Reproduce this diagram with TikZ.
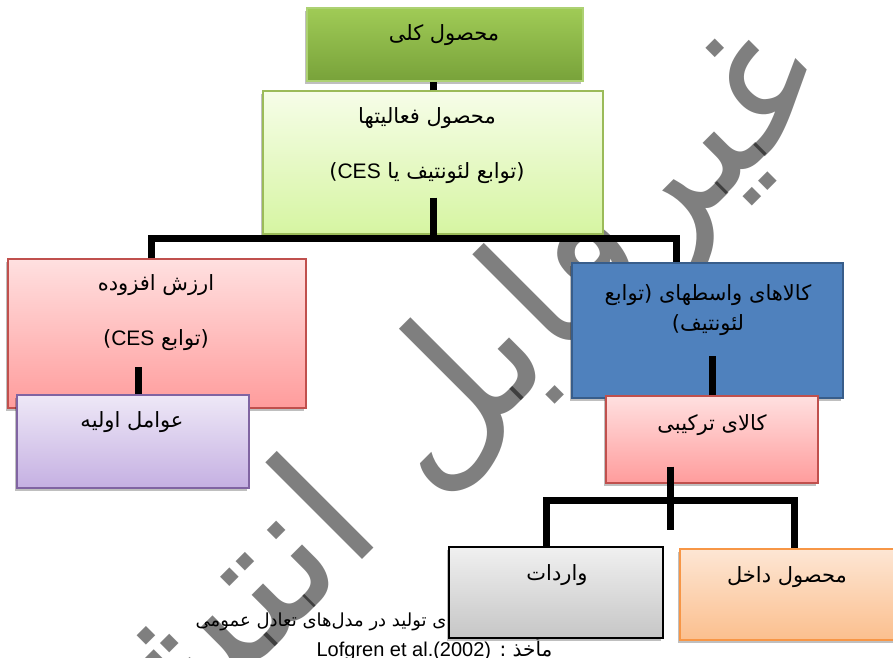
\documentclass[tikz,border=0pt]{standalone}
\usepackage{fontspec}
\setmainfont{Liberation Sans}
\newfontfamily\arabicfont[Script=Arabic]{DejaVu Sans}
\TeXXeTstate=1
\usetikzlibrary{shadows}

\definecolor{rootline}{HTML}{ADD173}
\definecolor{roottop}{HTML}{A0CB56}
\definecolor{rootbot}{HTML}{78A23A}
\definecolor{actline}{HTML}{9BBB59}
\definecolor{acttop}{HTML}{F6FDE8}
\definecolor{actbot}{HTML}{D6F5A2}
\definecolor{pinkline}{HTML}{C0504D}
\definecolor{pinktop}{HTML}{FFE0E0}
\definecolor{pinkbot}{HTML}{FF9C9C}
\definecolor{lilacline}{HTML}{8064A2}
\definecolor{lilactop}{HTML}{EEE8F7}
\definecolor{lilacbot}{HTML}{C5B0E2}
\definecolor{blueline}{HTML}{385D8A}
\definecolor{bluefill}{HTML}{4F81BD}
\definecolor{greytop}{HTML}{F0F0F0}
\definecolor{greybot}{HTML}{C6C6C6}
\definecolor{orangeline}{HTML}{F79646}
\definecolor{orangetop}{HTML}{FDE6D4}
\definecolor{orangebot}{HTML}{FBBF8E}

\newcommand{\fa}[1]{{\arabicfont\beginR #1\endR}}
\newcommand{\la}[1]{\beginL{\rmfamily #1}\endL}

\begin{document}
\begin{tikzpicture}[x=1pt, y=1pt,
                    line width=1.2pt,
                    ]
    \tikzstyle{box}=[rectangle, inner sep=0pt, drop shadow={shadow xshift=-2pt, shadow yshift=-3pt, opacity=0.25, fill=black}]
    \tikzstyle{rootbox}=[box, draw=rootline, top color=roottop, bottom color=rootbot]
    \tikzstyle{actbox}=[box, draw=actline, top color=acttop, bottom color=actbot]
    \tikzstyle{pinkbox}=[box, draw=pinkline, top color=pinktop, bottom color=pinkbot]
    \tikzstyle{lilacbox}=[box, draw=lilacline, top color=lilactop, bottom color=lilacbot]
    \tikzstyle{bluebox}=[box, draw=blueline, fill=bluefill, line width=2.5pt]
    \tikzstyle{greybox}=[box, draw=black, top color=greytop, bottom color=greybot]
    \tikzstyle{orangebox}=[box, draw=orangeline, top color=orangetop, bottom color=orangebot]
    \tikzstyle{txt}=[inner sep=0pt, align=center, font=\fontsize{21}{25}\selectfont]
    \tikzstyle{caption}=[inner sep=0pt, anchor=east]
    \tikzstyle{link}=[line width=7pt, line join=miter]
    \tikzstyle{watermark}=[inner sep=0pt, text=black, text opacity=0.5, font=\fontsize{180}{180}\selectfont]

    \path[use as bounding box, fill=white] (0,0) rectangle (893,-657);

    % stamp behind the chart
    \node[watermark, rotate=45] (stamp) at (415,-441) {\fa{غیرقابل انتشار}};

    % source, partly under the imports box
    \node[caption, font=\fontsize{18}{20}\selectfont] (caption-a) at (447,-622) {\fa{ی تولید در مدل‌های تعادل عمومی}};
    \node[caption, font=\fontsize{20}{20}\selectfont] (caption-b) at (553,-648) {\fa{مأخذ : \la{Lofgren et al.(2002)}}};

    % boxes
    \node[rootbox, minimum width=276pt, minimum height=73pt] (total) at (445,-44.5) {};
    \node[actbox, minimum width=340pt, minimum height=143pt] (activity) at (433,-162.5) {};
    \node[pinkbox, minimum width=298pt, minimum height=149pt] (valueadd) at (157,-333.5) {};
    \node[lilacbox, minimum width=232pt, minimum height=93pt] (primary) at (133,-441.5) {};
    \node[bluebox, minimum width=271pt, minimum height=135pt] (intermed) at (707.5,-330.5) {};
    \node[pinkbox, minimum width=212pt, minimum height=87pt] (composite) at (712,-439.5) {};
    \node[greybox, minimum width=214pt, minimum height=91pt] (imports) at (556,-592.5) {};
    \node[orangebox, minimum width=215pt, minimum height=91pt] (domestic) at (787.5,-594.5) {};

    % texts
    \node[txt] (total-t) at (444,-35) {\fa{محصول کلی}};
    \node[txt] (activity-t) at (427,-145.5) {\fa{محصول فعالیتها}\\[30pt]\fa{(توابع لئونتیف یا \la{CES})}};
    \node[txt] (valueadd-t) at (156,-312.5) {\fa{ارزش افزوده}\\[30pt]\fa{(توابع \la{CES})}};
    \node[txt] (primary-t) at (132,-422) {\fa{عوامل اولیه}};
    \node[txt] (intermed-t) at (708,-310) {\fa{کالاهای واسطهای (توابع}\\[5pt]\fa{لئونتیف)}};
    \node[txt] (composite-t) at (712,-425) {\fa{کالای ترکیبی}};
    \node[txt] (imports-t) at (557,-575) {\fa{واردات}};
    \node[txt] (domestic-t) at (787,-577) {\fa{محصول داخل}};

    % links
    \draw[link] (activity.north) -- (activity.north |- total.south);
    \draw[link] ([yshift=37pt]activity.south) -- ([yshift=-4pt]activity.south);
    \draw[link] ([xshift=-6pt]valueadd.north) |- ([yshift=-4pt]activity.south) -| ([xshift=-31pt]intermed.north);
    \draw[link] ([xshift=5pt]primary.north) -- ++(0,27);
    \draw[link] (composite.north) -- ++(0,39);
    \draw[link] ([xshift=-42pt,yshift=17pt]composite.south) -- ++(0,-63);
    \draw[link] ([xshift=-10pt]imports.north) |- ([xshift=-42pt,yshift=-17pt]composite.south) -| ([xshift=7pt]domestic.north);
\end{tikzpicture}
\end{document}
